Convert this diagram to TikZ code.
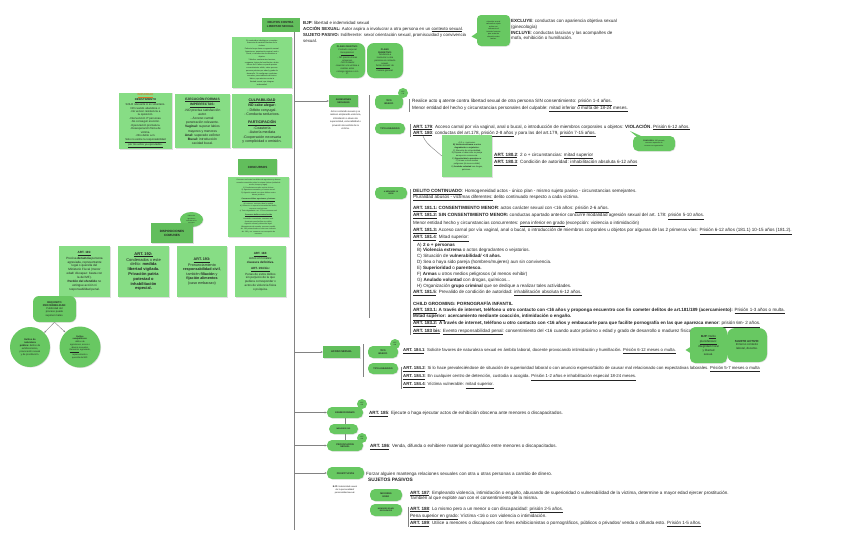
\documentclass[tikz,border=0pt]{standalone}
\usepackage{fontspec}
\setmainfont{Liberation Sans}
\usetikzlibrary{shadows,arrows.meta,calc,shapes.geometric}
\definecolor{lg}{RGB}{135,221,133}
\definecolor{dg}{RGB}{98,190,92}
\definecolor{pg}{RGB}{104,200,98}
\definecolor{ln}{RGB}{130,130,130}
\definecolor{orng}{RGB}{214,120,40}
\definecolor{txt}{RGB}{35,35,35}
\newcommand\fs[2]{\fontsize{#1}{#2}\selectfont}
\newcommand\myul[1]{\underline{#1}}
\newcommand\ua[1]{\textbf{\myul{#1}}}
\pgfdeclarelayer{bg}
\pgfdeclarelayer{lines}
\pgfsetlayers{bg,lines,main}
\tikzset{
 base/.style={inner sep=1pt, align=center, text=txt},
 shad/.style={drop shadow={opacity=0.25,shadow xshift=0.6pt,shadow yshift=-0.6pt}},
 lbox/.style={base, fill=lg, shad},
 dbox/.style={base, fill=dg, shad},
 pill/.style={base, fill=pg, rounded corners=5pt, shad, font=\fs{2.3}{2.7}\bfseries},
 rbox/.style={base, fill=pg, rounded corners=7pt, shad},
 tx/.style={anchor=north west, inner sep=0pt, align=left, text=txt},
 conn/.style={draw=ln, line width=0.4pt},
 arr/.style={conn, -{Stealth[length=2.2pt,width=2pt]}},
 bar/.style={draw=ln, line width=0.5pt},
 artc/.style={circle, fill=pg, inner sep=0pt, minimum size=10pt, font=\fs{1.6}{1.9}, align=center, text=txt},
}
\begin{document}
\begin{tikzpicture}[x=1pt,y=-1pt]
\begin{pgfonlayer}{bg}
\fill[white] (0,0) rectangle (848,538);
\end{pgfonlayer}
\useasboundingbox (0,0) rectangle (848,538);

% ---------- title and main line
\node[dbox, minimum width=38pt, minimum height=14pt, font=\fs{2.9}{3.4}\bfseries] (title) at (280.5,24.5) {DELITOS CONTRA\\LIBERTAD SEXUAL};
\coordinate (mtop) at (294,31);
\coordinate (mbot) at (294,530);

\node[tx, font=\fs{4.35}{6.1}] (bjp) at (303,20.7) {\textbf{BJP}: libertad e indemnidad sexual\\
\textbf{ACCIÓN SEXUAL:} Autor aspira a involucrar a otra persona en un \myul{contexto sexual}.\\
\textbf{SUJETO PASIVO:} Indiferente: sexo/ orientación sexual, promiscuidad y convivencia\\sexual.};

\node[rbox, fill=pg, rounded corners=4pt, minimum width=33pt, minimum height=31pt, font=\fs{1.9}{2.5}] (bub1) at (493.5,30.5) {situación sexual\\valorada o sujeto\\activo con\\referencia al\\tratante humano\\que sustenta\\situación entre\\tantas.};
\fill[pg] ($(bub1.west)+(0.5,2)$) -- (471.5,36.5) -- ($(bub1.west)+(0.5,9)$) -- cycle;

\node[tx, font=\fs{4.5}{5.7}] (excl) at (511,19.2) {\textbf{EXCLUYE}: conductas con apariencia objetiva sexual\\(ginecología)\\
\textbf{INCLUYE}: conductas lascivas y las acompañes de\\mofa, exhibición o humillación.};

\node[rbox, minimum width=35pt, minimum height=35pt, font=\fs{2.3}{2.75}] (pobj) at (347.5,60.5) {\textbf{PLANO OBJETIVO:}\\Contacto corporal\\\myul{Excepciones:}\\- NO precisa zonas\\erógenas.\\- NO contacto:\\coacción a la víctima a\\realizar actos\\consigo mismo o con\\3º.};
\node[rbox, minimum width=36pt, minimum height=35pt, font=\fs{2.3}{2.75}] (psub) at (385,60.5) {\textbf{PLANO}\\\textbf{SUBJETIVO:}\\Tendencia a\\involucrar a otra\\persona en contexto\\sexual.\\\myul{Ánimo sexual}: de\\manera general.};

% ---------- left column
\node[lbox, minimum width=60pt, minimum height=51pt, font=\fs{1.9}{2.75}] (ideo) at (262,62.5) {En contenidos ideológicos o morales:\\Ausencia de carácter libertino de la\\víctima.\\Perfecta la que tiene un agresión sexual.\\Agresiones: penetración vaginal, anal o\\bucal, o introducción de miembros u\\objetos.\\* Móviles: sentimientos lascivos,\\venganza, ánimo de humillación o burla.\\Menor de 16 años no puede prestar\\consentimiento válido, salvo que sea\\persona próxima por edad y grado de\\desarrollo. Se configuran conductas\\sexuales, prescindiendo del ánimo\\lúbrico, que atentan contra la\\libertad sexual, que integran\\indemnidad.};

\node[lbox, minimum width=53pt, minimum height=54pt, font=\fs{2.75}{3.45}] (imp) at (145.5,121) {\textcolor{orng}{\textbf{\myul{IMPUNIDAD}}}\\\ua{DESISTIMIENTO}\\SOLO relevante si es voluntario.\\NO cuando abandona x:\\-No vencer resistencia a\\la oposición.\\-Intervención 3º personas.\\-No conseguir erección.\\-Eyaculación prematura.\\-Desesperación física de\\víctima.\\-Otro delito a.m.\\\myul{Solo no exime la responsabilidad}\\\myul{por los actos ya ejecutados.}};
\node[lbox, minimum width=55pt, minimum height=54pt, font=\fs{3.3}{4.2}] (eje) at (202.5,121) {\ua{EJECUCIÓN FORMAS}\\\ua{IMPERFECTAS:}\\-NO precisa satisfacción\\autor.\\- Acceso carnal:\\penetración relevante.\\\textbf{Vaginal:} superar labios\\mayores y menores\\\textbf{Anal:} superado esfínter\\\textbf{Bucal:} introducción\\cavidad bucal.};
\node[lbox, minimum width=60pt, minimum height=54pt, font=\fs{3.6}{4.5}] (cul) at (262,121) {\ua{CULPABILIDAD}\\\textbf{NO cabe alegar:}\\- Débito conyugal.\\- Conducta seductora.\\[3pt]\ua{PARTICIPACIÓN}\\-Coautoría\\-Autoría mediata\\-Cooperación necesaria\\y complicidad x omisión.};

\node[dbox, minimum width=39pt, minimum height=16pt, font=\fs{3}{3.5}\bfseries] (conc) at (257.5,167) {CONCURSOS};
\node[lbox, minimum width=61pt, minimum height=60pt, font=\fs{1.8}{2.55}] (conctx) at (258.5,207) {Concurso real entre los delitos de agresiones y abusos\\sexuales cometidos sobre la misma víctima (unidad de\\acción, tiempo y lugar).\\1) Conductas sexuales contra víctima.\\2) Agresiones sexuales y el acoso sexual.\\3) Agresión sexual con otros delitos contra\\bienes jurídicos.\\[1pt]\textbf{\myul{Concurso delitos agresiones y lesiones}}\\a) Lesiones: concurso ideal o medial.\\b) Violencia: si supera la intensidad del delito,\\concurso con lesiones.\\c) Trato degradante: art. 173 en concurso real.\\[1pt]\textbf{\myul{Concurso delitos contra la vida}}\\Homicidio o asesinato: concurso real.\\Asesinato para facilitar otro delito.\\Agresión sexual y detención ilegal.\\Allanamiento de morada: concurso medial.\\Art. 180 primará sobre el robo con violencia.\\Art. 181 y ss: concurso con corrupción de\\menores.};

\node[ellipse, fill=pg, inner sep=0pt, minimum width=23pt, minimum height=15pt, font=\fs{1.6}{2.1}, align=center, text=txt, shad] (bub2) at (191.5,219.5) {Delitos de\\agresiones\\sexuales a los\\menores};
\node[dbox, minimum width=42pt, minimum height=20pt, font=\fs{3.1}{4}\bfseries] (disp) at (172,233) {DISPOSICIONES\\COMUNES};

\node[lbox, minimum width=51pt, minimum height=51pt, font=\fs{3.05}{3.95}] (a191) at (84.5,271.5) {\ua{ART. 191:}\\Precisa \textbf{denuncia} persona\\agraviada, representante\\legal o querella del\\Ministerio Fiscal (menor\\edad/ discapaz: basta con\\la del MF).\\\textbf{Perdón del ofendido} no\\extingue acción ni\\responsabilidad penal.};
\node[lbox, minimum width=51pt, minimum height=51pt, font=\fs{4}{4.8}] (a192) at (143.5,271.5) {\ua{ART. 192:}\\Condenados x este\\delito: \textbf{medida}\\\textbf{libertad vigilada.}\\\textbf{Privación patria}\\\textbf{potestad o}\\\textbf{inhabilitación}\\\textbf{especial.}};
\node[lbox, minimum width=50pt, minimum height=51pt, font=\fs{3.7}{4.6}] (a193) at (202,271.5) {\ua{ART. 193:}\\Pronunciamiento\\\textbf{responsabilidad civil},\\también \textbf{filiación} y\\\textbf{fijación alimentos}\\(caso embarazo)};
\node[lbox, minimum width=51pt, minimum height=51pt, font=\fs{3}{3.75}] (a194) at (260.5,271.5) {\ua{ART. 194:}\\Actos en locales:\\\textbf{clausura definitiva.}\\[3pt]\ua{ART. 194 bis:}\\Penas de estos delitos\\sin perjuicio de la que\\pudiera corresponder x\\actos de violencia física\\o psíquica.};

\node[rbox, rounded corners=6pt, minimum width=43pt, minimum height=26pt, font=\fs{2.6}{3.2}] (req) at (54.5,309) {\textbf{REQUISITO}\\\textbf{PROCEDIBILIDAD:}\\Publicidad del\\proceso puede\\suponer males.};
\node[circle, fill=pg, inner sep=0pt, minimum size=40pt, font=\fs{2.4}{3}, align=center, text=txt, shad] (cir1) at (30,347) {\textbf{Delitos de}\\\textbf{naturaleza}\\\textbf{pública:} delitos de\\exhibicionismo,\\provocación sexual\\y de prostitución.};
\node[circle, fill=pg, inner sep=0pt, minimum size=41pt, font=\fs{2.2}{2.75}, align=center, text=txt, shad] (cir2) at (80,347) {\textbf{Delitos}\\\textbf{semipúblicos:}\\delitos de\\agresiones, acoso o\\abusos sexuales.\\\myul{Denuncia}: agraviado,\\representante o\\querella del MF.};

% ---------- agresiones sexuales
\node[dbox, minimum width=29pt, minimum height=12pt, font=\fs{2.3}{2.8}\bfseries] (agr) at (343.5,101) {AGRESIONES\\SEXUALES};
\node[base, inner sep=0pt, font=\fs{2.35}{3.5}] (agrd) at (345.5,120) {Actos contenido sexual q se\\realicen empleando violencia,\\intimidación o abuso de\\superioridad, vulnerabilidad o\\privación de sentido de la\\víctima.};
\coordinate (ba1) at (369,95);
\coordinate (ba2) at (369,318);

\node[pill, minimum width=28pt, minimum height=14pt] (tb1) at (389,102) {TIPO\\BÁSICO};
\node[artc] (c178) at (403,93) {ART\\178};
\node[pill, minimum width=30pt, minimum height=11pt] (ta1) at (390,128.5) {TIPO AGRAVADO};
\node[pill, minimum width=32pt, minimum height=12pt, font=\fs{1.9}{2.4}\bfseries] (men) at (391,193) {A MENORES 16\\AÑOS};

\node[tx, font=\fs{4.6}{7.2}] (tbt) at (412,99.2) {Realice acto q atente contra libertad sexual de otra persona SIN consentimiento: \myul{prisión 1-4 años.}\\
Menor entidad del hecho y circunstancias personales del culpable: \myul{mitad inferior o multa de 18-24 meses.}};
\node[tx, font=\fs{4.55}{6}] (tat) at (413,123.9) {\ua{ART. 179}: Acceso carnal por vía vaginal, anal o bucal, o introducción de miembros corporales u objetos: \textbf{VIOLACIÓN}. \myul{Prisión 6-12 años.}\\
\ua{ART. 180}: conductas del art.178, \myul{prisión 2-8 años} y para las del art.179, \myul{prisión 7-15 años.}};
\node[lbox, minimum width=50pt, minimum height=42pt, font=\fs{2.05}{2.7}] (lst) at (467,156) {A) 2 o + personas.\\\textbf{B) Violencia extrema o actos}\\\textbf{degradantes o vejatorios.}\\C) Situación de vulnerabilidad.\\D) Esposa o haber sido su pareja\\aunque sin convivencia.\\E) \textbf{Superioridad o parentesco}.\\F) Armas u otros medios\\peligrosos (al menos exhibir)\\G) \textbf{Anulado voluntad} con drogas,\\químicos...};
\node[tx, font=\fs{4.6}{7.3}] (t180) at (494,152.5) {\ua{ART. 180.2}: 2 o + circunstancias: \myul{mitad superior}\\
\ua{ART. 180.3}: Condición de autoridad: \myul{inhabilitación absoluta 6-12 años}};
\node[rbox, rounded corners=5pt, minimum width=42pt, minimum height=15pt, font=\fs{1.8}{2.4}] (bub3) at (654,143.5) {\textbf{CONCURSO:} 180 primará,\\concurso aparente de\\normas con agravación.};
\fill[pg] ($(bub3.north west)+(4,1)$) -- (630,131) -- ($(bub3.north west)+(10,1)$) -- cycle;
\coordinate (c180) at (423,136);

\node[tx, font=\fs{4.55}{5.95}] (ment) at (413,189.2) {\ua{DELITO CONTINUADO}: Homogeneidad actos - único plan - mismo sujeto pasivo - circunstancias semejantes.\\
\myul{Pluralidad abusos - víctimas diferentes:} delito continuado respecto a cada víctima.\\[5pt]
\textbf{\myul{ART. 181.1:} CONSENTIMIENTO MENOR}: actos carácter sexual con <16 años: \myul{prisión 2-6 años.}\\
\textbf{\myul{ART. 181.2:} SIN CONSENTIMIENTO MENOR:} conductas apartado anterior concurre modalidad agresión sexual del art. 178: \myul{prisión 5-10 años.}\\
Menor entidad hecho y circunstancias concurrentes: \myul{pena inferior en grado} (excepción: violencia o intimidación)\\
\ua{ART. 181.3:} Acceso carnal por vía vaginal, anal o bucal, o introducción de miembros corporales u objetos por algunas de las 2 primeras vías: \myul{Prisión 6-12 años (181.1) 10-15 años (181.2).}\\
\ua{ART. 181.4}: \myul{Mitad superior:}\\
\hspace*{4pt}A) \textbf{2 o + personas}\\
\hspace*{4pt}B) \textbf{Violencia extrema} o actos degradantes o vejatorios.\\
\hspace*{4pt}C) Situación de \textbf{vulnerabilidad/ <4 años.}\\
\hspace*{4pt}D) Sea o haya sido pareja (hombres/mujeres) aun sin convivencia.\\
\hspace*{4pt}E) \textbf{Superioridad} o \textbf{parentesco.}\\
\hspace*{4pt}F) \textbf{Armas} u otros medios peligrosos (al menos exhibir)\\
\hspace*{4pt}G) \textbf{Anulado voluntad} con drogas, químicos...\\
\hspace*{4pt}H) Organización \textbf{grupo criminal} que se dedique a realizar tales actividades.\\
\ua{ART. 181.5}: Prevalido de condición de autoridad: \myul{inhabilitación absoluta 6-12 años.}\\[5pt]
\textbf{CHILD GROOMING: PORNOGRAFÍA INFANTIL}\\
\textbf{\myul{ART. 183.1:} A través de internet, teléfono u otro contacto con <16 años y proponga encuentro con fin cometer delitos de art.181/189 (acercamiento):} \myul{Prisión 1-3 años o multa.}\\
\textbf{\myul{Mitad superior}: acercamiento mediante coacción, intimidación o engaño.}\\
\textbf{\myul{ART. 183.2}: A través de internet, teléfono u otro contacto con <16 años y embaucarle para que facilite pornografía en las que aparezca menor}: \myul{prisión 6m- 2 años.}\\
\ua{ART. 183 bis}: \myul{Evento responsabilidad penal}: consentimiento del <16 cuando autor próximo x edad y grado de desarrollo o madurez física y psicológica.};

% ---------- acoso sexual
\node[dbox, minimum width=37pt, minimum height=12pt, font=\fs{2.6}{3}\bfseries] (aco) at (341.5,352) {ACOSO SEXUAL};
\coordinate (bb1) at (363,344);
\coordinate (bb2) at (363,377);
\node[pill, minimum width=30pt, minimum height=12pt] (tb2) at (383,352) {TIPO\\BÁSICO};
\node[artc] (c184) at (395,344) {ART\\184};
\node[pill, minimum width=30pt, minimum height=11pt] (ta2) at (383,368.5) {TIPO AGRAVADO};
\node[tx, font=\fs{4.25}{6}] (t1841) at (403,348.3) {\ua{ART. 184.1}: Solicite favores de naturaleza sexual en ámbito laboral, docente provocando intimidación y humillación. \myul{Prisión 6-12 meses o multa.}};
\node[rbox, rounded corners=5pt, minimum width=37pt, minimum height=36pt, font=\fs{2.9}{3.6}] (bub4) at (708.5,345) {\textbf{BJP:} \myul{Delito}\\\myul{pluriofensivo:}\\integridad moral\\y libertad\\sexual.};
\fill[pg] ($(bub4.west)+(0.5,2)$) -- (685.5,350) -- ($(bub4.west)+(0.5,8)$) -- cycle;
\node[rbox, rounded corners=8pt, minimum width=40pt, minimum height=34pt, font=\fs{2.9}{3.6}] (suj) at (747,345) {\textbf{SUJETO ACTIVO:}\\Inmerso contexto\\laboral, docente.};
\node[tx, font=\fs{4.3}{8}] (t1842) at (403,366.6) {\ua{ART. 184.2}: Si lo hace prevaleciéndose de situación de superioridad laboral o con anuncio expreso/tácito de causar mal relacionado con expectativas laborales. \myul{Prisión 5-7 meses o multa}\\
\ua{ART. 184.3}: En cualquier centro de detención, custodia o acogida. \myul{Prisión 1-2 años e inhabilitación especial 18-24 meses.}\\
\ua{ART. 184.4}: Víctima vulnerable: \myul{mitad superior.}};

% ---------- exhibicionismo / provocacion
\node[pill, minimum width=36pt, minimum height=11pt] (exh) at (345,412.5) {EXHIBICIONISMO};
\node[artc] (c185) at (362,404) {ART\\185};
\node[pill, minimum width=29pt, minimum height=10pt, font=\fs{1.9}{2.4}\bfseries] (mdis) at (343.5,429) {MENORES/ DIS};
\node[pill, minimum width=36pt, minimum height=11pt] (prov) at (345,445.5) {PROVOCACIÓN\\SEXUAL};
\node[artc] (c186) at (362,438) {ART\\186};
\node[tx, font=\fs{4.55}{6}] (t185) at (369,410.8) {\ua{ART. 185}: Ejecute o haga ejecutar actos de exhibición obscena ante menores o discapacitados.};
\node[tx, font=\fs{4.55}{6}] (t186) at (370,444.2) {\ua{ART. 186}: Venda, difunda o exhibiere material pornográfico entre menores o discapacitados.};

% ---------- prostitucion
\node[pill, minimum width=37pt, minimum height=12pt] (pro) at (345.5,473) {PROSTITUCIÓN};
\node[base, inner sep=0pt, font=\fs{2.2}{2.9}] (probjp) at (345,490) {\textbf{BJP:} Indemnidad sexual\\de la personalidad/\\personalidad sexual.};
\node[tx, font=\fs{4.55}{6}] (tforz) at (366,471.5) {Forzar alguien mantenga relaciones sexuales con otra u otras personas a cambio de dinero.};
\node[tx, font=\fs{4.8}{6}\bfseries] (tsuj) at (368,478) {SUJETOS PASIVOS};
\node[pill, minimum width=32pt, minimum height=12pt] (may) at (386,495) {MAYORES\\EDAD};
\node[pill, minimum width=32pt, minimum height=12pt, font=\fs{1.9}{2.4}\bfseries] (mened) at (386,510) {MENORES EDAD/\\DISCAPACES};
\node[tx, font=\fs{4.55}{5.4}] (t187) at (410,490.5) {\ua{ART. 187}: Empleando violencia, intimidación o engaño, abusando de superioridad o vulnerabilidad de la víctima, determine a mayor edad ejercer prostitución.\\
También al que explote aun con el consentimiento de la misma.};
\node[tx, font=\fs{4.55}{5.5}] (t188) at (410,506.5) {\ua{ART. 188}: Lo mismo pero a un menor o con discapacidad: \myul{prisión 2-5 años.}\\
\myul{Pena superior en grado}: Víctima <16 o con violencia o intimidación.\\
\ua{ART. 189}: Utilice a menores o discapaces con fines exhibicionistas o pornográficos, públicos o privados/ venda o difunda esto. \myul{Prisión 1-5 años.}};

% ---------- connectors
\begin{pgfonlayer}{lines}
\draw[conn] (mtop) -- (mbot);
\draw[arr] (agr.west -| mtop) -- (agr.west);
\draw[arr] (aco.west -| mtop) -- (aco.west);
\draw[arr] (exh.west -| mtop) -- (exh.west);
\draw[arr] (prov.west -| mtop) -- (prov.west);
\draw[arr] (pro.west -| mtop) -- (pro.west);
\draw[conn] (ba1) -- (ba2);
\draw[conn] (bb1) -- (bb2);
\draw[conn] (exh.south) -- (prov.north);
\draw[arr] (req.south) -- (cir1.north east);
\draw[arr] (req.south) -- (cir2.north west);
\draw[conn] (c180) .. controls (426,144) and (433,148) .. (lst.west);
\draw[bar] ([xshift=-2.5pt]tbt.north west) -- ([xshift=-2.5pt]tbt.south west);
\draw[bar] ([xshift=-2.5pt]tat.north west) -- ([xshift=-2.5pt]tat.south west);
\draw[bar] ([xshift=-2.5pt]ment.north west) -- ([xshift=-2.5pt]ment.south west);
\draw[bar] ([xshift=-1.5pt]t1842.north west) -- ([xshift=-1.5pt]t1842.south west);
\draw[bar] ([xshift=-1.5pt]t188.north west) -- ([xshift=-1.5pt]t188.south west);
\end{pgfonlayer}
\end{tikzpicture}
\end{document}
